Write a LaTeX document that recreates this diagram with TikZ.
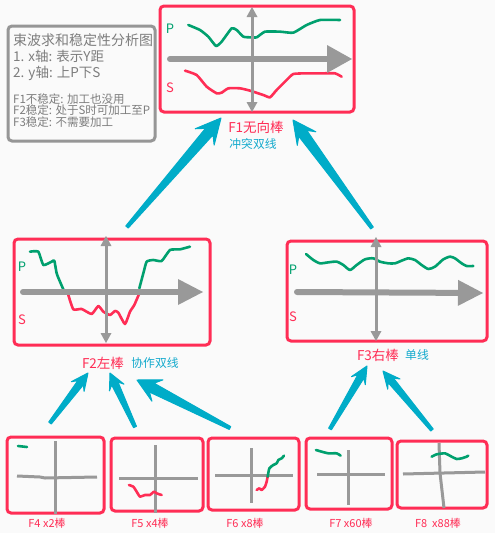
\documentclass[tikz,border=0pt]{standalone}
\usepackage{fontspec}
\setmainfont{Noto Sans CJK SC}
\usetikzlibrary{calc}
\definecolor{boxred}{RGB}{255,45,85}
\definecolor{pgreen}{RGB}{0,160,110}
\definecolor{arrowblue}{RGB}{0,172,200}
\definecolor{labelblue}{RGB}{20,170,205}
\definecolor{arrowgray}{RGB}{153,153,153}
\definecolor{legendgray}{RGB}{150,150,150}
\definecolor{legendtext}{RGB}{125,125,125}
\definecolor{bgc}{RGB}{250,250,250}
\newcommand\tarrow[5]{%
  \path ($(#2)!#3!(#1)$) coordinate (tH) ($(#2)!0.72*#3!(#1)$) coordinate (tS);
  \filldraw[arrowblue, line width=1pt, line join=round]
    ($(#1)!1.6pt!90:(#2)$) -- ($(tS)!#5!90:(#2)$) -- ($(tH)!#4!90:(#2)$) -- (#2)
    -- ($(tH)!#4!-90:(#2)$) -- ($(tS)!#5!-90:(#2)$) -- ($(#1)!1.6pt!-90:(#2)$) -- cycle;
}
\newcommand\garrow[4]{%
  \path ($(#2)!#3!(#1)$) coordinate (gH);
  \draw[arrowgray, line width=6pt, line cap=round] (#1) -- (gH);
  \fill[arrowgray] ($(gH)!#4!90:(#2)$) -- (#2) -- ($(gH)!#4!-90:(#2)$) -- cycle;
}
\newcommand\varrow[2]{%
  \path ($(#1)!10pt!(#2)$) coordinate (vA) ($(#2)!10pt!(#1)$) coordinate (vB);
  \draw[arrowgray, line width=3pt] (vA) -- (vB);
  \fill[arrowgray] ($(vA)!5.5pt!90:(#1)$) -- (#1) -- ($(vA)!5.5pt!-90:(#1)$) -- cycle;
  \fill[arrowgray] ($(vB)!5.5pt!90:(#2)$) -- (#2) -- ($(vB)!5.5pt!-90:(#2)$) -- cycle;
}
\tikzset{
  redbox/.style={draw=boxred, line width=3pt, rounded corners=4pt, inner sep=0pt},
  gline/.style={draw=pgreen, line width=2.6pt, line join=round, line cap=round},
  rline/.style={draw=boxred, line width=2.6pt, line join=round, line cap=round},
  axisline/.style={draw=arrowgray, line width=3pt},
  flabel/.style={text=boxred, font=\fontsize{13.5}{16}\selectfont, inner sep=0pt},
  blabel/.style={text=labelblue, font=\fontsize{11.8}{14}\selectfont, inner sep=0pt},
  smlabel/.style={text=boxred, font=\fontsize{11}{13}\selectfont, inner sep=0pt},
  pslabel/.style={font=\fontsize{13}{15}\selectfont, inner sep=0pt},
  legbig/.style={text=legendtext, font=\fontsize{13.5}{16}\selectfont, inner sep=0pt, anchor=west},
  legtitle/.style={text=legendtext, font=\fontsize{14}{16}\selectfont, inner sep=0pt, anchor=west},
  legsmall/.style={text=legendtext, font=\fontsize{11.5}{13}\selectfont, inner sep=0pt, anchor=west},
}
\begin{document}
\begin{tikzpicture}[x=1pt,y=-1pt]
\useasboundingbox (0,0) rectangle (495,533);
\fill[bgc] (0,0) rectangle (495,533);

% legend
\node[draw=legendgray, line width=3pt, rounded corners=4pt, minimum width=147pt, minimum height=115pt, inner sep=0pt] (legend) at (81.5,83.5) {};
\node[legtitle] (l1) at (13,40) {束波求和稳定性分析图};
\node[legbig] (l2) at (13,56) {1. x轴: 表示Y距};
\node[legbig] (l3) at (13,73) {2. y轴: 上P下S};
\node[legsmall] (l4) at (13,99) {F1不稳定: 加工也没用};
\node[legsmall] (l5) at (13,110.5) {F2稳定: 处于S时可加工至P};
\node[legsmall] (l6) at (13,122) {F3稳定: 不需要加工};

% boxes
\node[redbox, minimum width=194pt, minimum height=106pt] (f1) at (257,59) {};
\node[redbox, minimum width=196pt, minimum height=106pt] (f2) at (112,292) {};
\node[redbox, minimum width=200pt, minimum height=100pt] (f3) at (387,291) {};
\node[redbox, minimum width=97pt, minimum height=76pt] (f4) at (55.5,475) {};
\node[redbox, minimum width=92pt, minimum height=73pt] (f5) at (157,474.5) {};
\node[redbox, minimum width=91pt, minimum height=72pt] (f6) at (253.5,474) {};
\node[redbox, minimum width=86pt, minimum height=71pt] (f7) at (349,473.5) {};
\node[redbox, minimum width=90pt, minimum height=67pt] (f8) at (442,474.5) {};

% P / S labels
\node[pslabel, text=pgreen] (p1) at (170,29) {P};
\node[pslabel, text=boxred] (s1) at (170,88) {S};
\node[pslabel, text=pgreen] (p2) at (22,267) {P};
\node[pslabel, text=boxred] (s2) at (22,320) {S};
\node[pslabel, text=pgreen] (p3) at (293,270) {P};
\node[pslabel, text=boxred] (s3) at (293,317) {S};

% curves F1
\begin{scope}[shift={(150,0)}, x=0.3333pt, y=-0.3333pt]
\draw[gline] plot[smooth, tension=0.3] coordinates {(115,75) (150,90) (175,110) (198,138) (215,125) (245,85) (260,90) (280,110) (300,112) (320,112) (345,95) (390,95) (430,98) (470,75) (510,60) (570,60)};
\draw[rline] plot[smooth, tension=0.3] coordinates {(105,212) (140,225) (170,260) (200,280) (215,278) (235,265) (270,265) (300,272) (340,285) (360,292) (380,270) (410,240) (430,222) (470,220) (520,220) (555,220) (575,230)};
\end{scope}
% curves F2
\begin{scope}[shift={(0,230)}, x=0.3333pt, y=-0.3333pt]
\draw[gline] plot[smooth, tension=0.3] coordinates {(90,65) (115,65) (130,105) (155,95) (163,92) (170,130) (180,155) (190,178)};
\draw[gline] plot[smooth, tension=0.3] coordinates {(418,175) (430,130) (440,95) (460,90) (485,93) (510,60) (540,58) (570,50)};
\draw[rline] plot[smooth, tension=0.3] coordinates {(205,195) (220,238) (245,237) (275,252) (295,228) (310,245) (330,255) (345,243) (355,248) (375,282) (390,245) (403,225) (418,190)};
\end{scope}
% curve F3
\begin{scope}[shift={(280,230)}, x=0.3333pt, y=-0.3333pt]
\draw[gline] plot[smooth, tension=0.4] coordinates {(78,72) (100,90) (120,100) (145,97) (170,95) (190,105) (210,120) (230,105) (255,88) (280,85) (300,95) (325,100) (345,100) (365,92) (385,85) (405,90) (425,105) (445,117) (465,110) (490,88) (510,80) (525,85) (545,100) (560,108) (580,108)};
\end{scope}

% gray arrows
\coordinate (h1a) at (170,59); \coordinate (h1b) at (352,59);
\coordinate (v1a) at (252,7); \coordinate (v1b) at (252,112);
\coordinate (h2a) at (23,292); \coordinate (h2b) at (203,292);
\coordinate (v2a) at (106,236); \coordinate (v2b) at (106,343);
\coordinate (h3a) at (297,292); \coordinate (h3b) at (483,293);
\coordinate (v3a) at (376,237); \coordinate (v3b) at (376,341);
\garrow{h1a}{h1b}{25pt}{14pt}
\varrow{v1a}{v1b}
\garrow{h2a}{h2b}{25pt}{13pt}
\varrow{v2a}{v2b}
\garrow{h3a}{h3b}{25pt}{13pt}
\varrow{v3a}{v3b}

% bottom axes
\draw[axisline] (55,441) -- (55,514);
\draw[axisline, line join=round] (17,476) -- (40,477) -- (45,478) -- (97,477);
\draw[axisline] (155,445) -- (155,513);
\draw[axisline] (119,478) -- (198,478);
\draw[axisline] (251,448) -- (251,503);
\draw[axisline] (215,475) -- (293,475);
\draw[axisline] (348,450) -- (348,505);
\draw[axisline] (317,474) -- (385,474);
\draw[axisline, line join=round] (439,443) -- (440,473) -- (444,508);
\draw[axisline] (403,474) -- (485,472);

% bottom curves
\draw[gline] (18,446) -- (27,447);
\begin{scope}[shift={(0,425)}, x=0.3333pt, y=-0.3333pt]
\draw[rline] plot[smooth, tension=0.3] coordinates {(387,180) (400,185) (410,200) (420,215) (435,210) (450,210) (462,200) (470,205) (485,210)};
\end{scope}
\begin{scope}[shift={(200,425)}, x=0.3333pt, y=-0.3333pt]
\draw[rline] plot[smooth, tension=0.3] coordinates {(170,195) (178,190) (185,195) (195,185) (200,170) (203,155)};
\draw[gline] plot[smooth, tension=0.3] coordinates {(203,155) (208,130) (220,120) (230,115) (235,105) (245,100) (252,92)};
\draw[gline] plot[smooth, tension=0.3] coordinates {(348,75) (365,80) (385,85) (410,85) (422,92)};
\draw[gline] plot[smooth, tension=0.3] coordinates {(695,95) (710,88) (735,85) (755,95) (770,102) (785,100) (800,95) (805,92)};
\end{scope}

% labels
\node[flabel] (t1) at (256,127) {F1无向棒};
\node[blabel] (t1b) at (253,144) {冲突双线};
\node[flabel] (t2) at (103,363) {F2左棒};
\node[blabel] (t2b) at (155,363) {协作双线};
\node[flabel] (t3) at (378,355) {F3右棒};
\node[blabel] (t3b) at (417,355) {单线};
\node[smlabel] (t4) at (47,523) {F4 x2棒};
\node[smlabel] (t5) at (150,523) {F5 x4棒};
\node[smlabel] (t6) at (245,523) {F6 x8棒};
\node[smlabel] (t7) at (351,523) {F7 x60棒};
\node[smlabel] (t8) at (438,523) {F8\ \ x88棒};

% blue arrows
\coordinate (a1t) at (127,227); \coordinate (a1h) at (221,118);
\coordinate (a2t) at (372,228); \coordinate (a2h) at (293,120);
\coordinate (a3t) at (50,423);  \coordinate (a3h) at (88,373);
\coordinate (a4t) at (135,427); \coordinate (a4h) at (110,373);
\coordinate (a5t) at (230,428); \coordinate (a5h) at (137,380);
\coordinate (a6t) at (330,429); \coordinate (a6h) at (367,366);
\coordinate (a7t) at (432,430); \coordinate (a7h) at (383,371);
\tarrow{a1t}{a1h}{25pt}{12.5pt}{5pt}
\tarrow{a2t}{a2h}{23pt}{11.5pt}{5pt}
\tarrow{a3t}{a3h}{17pt}{8pt}{3.5pt}
\tarrow{a4t}{a4h}{16pt}{8pt}{3.5pt}
\tarrow{a5t}{a5h}{23pt}{12pt}{5pt}
\tarrow{a6t}{a6h}{17pt}{8pt}{3.5pt}
\tarrow{a7t}{a7h}{17pt}{8pt}{3.5pt}
\end{tikzpicture}
\end{document}
